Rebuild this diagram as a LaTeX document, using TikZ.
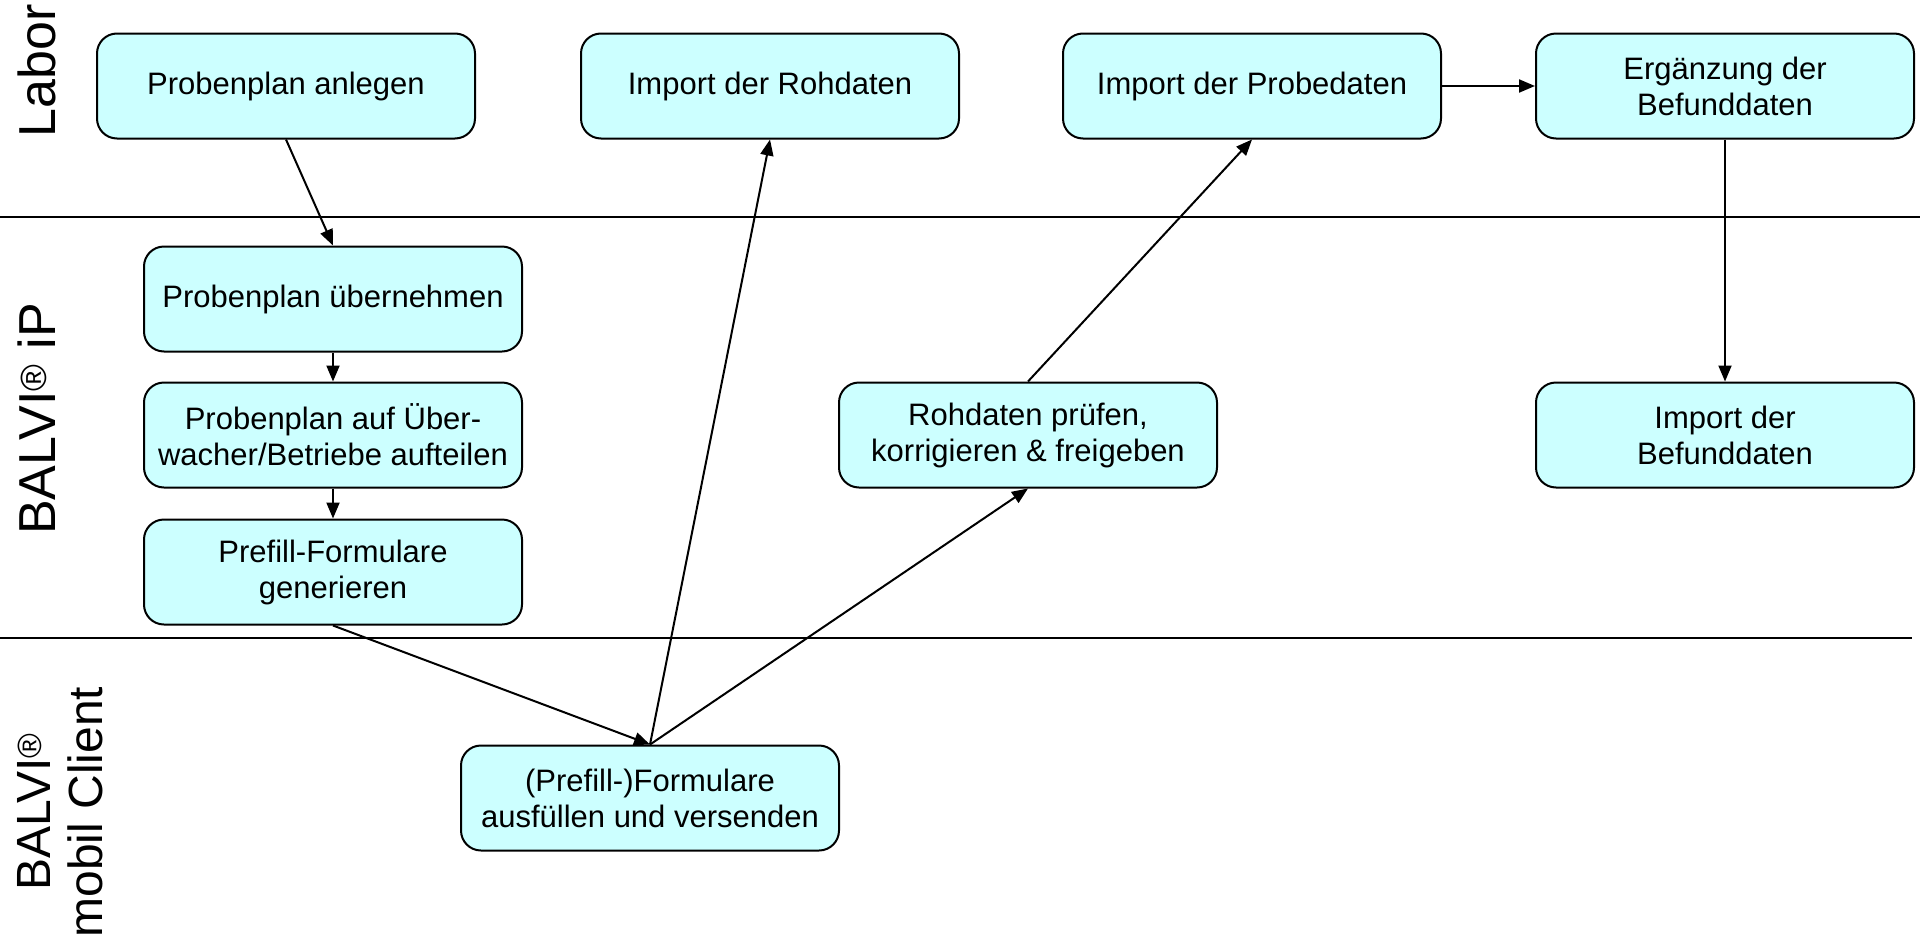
\documentclass[tikz,border=0pt]{standalone}
\usepackage{fontspec}
\setmainfont{Liberation Sans}
\usetikzlibrary{arrows.meta}
\definecolor{boxcyan}{HTML}{CCFFFF}
\begin{document}
\begin{tikzpicture}[x=1pt,y=-1pt]
  \tikzset{ task/.style={draw=black,line width=2pt,fill=boxcyan,rounded corners=20pt,
      minimum width=378pt,minimum height=105pt,align=center,
      font=\fontsize{31}{36}\selectfont},
    flow/.style={line width=2pt,-{Triangle[length=16pt,width=13pt]}},
    lane/.style={rotate=90,align=center,font=\fontsize{52}{52}\selectfont},
  }
  \useasboundingbox (0,0) rectangle (1920,937);

  % swimlanes
  \draw[line width=2.5pt] (0,217) -- (1920,217);
  \draw[line width=2.5pt] (0,638) -- (1912,638);
  \node[lane] (labor) at (37,71) {Labor};
  \node[lane] (ip) at (37,419) {BALVI\textsuperscript{®} iP};
  \node[lane,font=\fontsize{48}{52}\selectfont] (mobil) at (60,812) {BALVI\textsuperscript{®}\\mobil Client};

  \node[task] (anlegen) at (286,86) {Probenplan anlegen};
  \node[task] (rohimport) at (770,86) {Import der Rohdaten};
  \node[task] (probeimport) at (1252,86) {Import der Probedaten};
  \node[task] (ergaenzung) at (1725,86) {Ergänzung der\\Befunddaten};

  \node[task] (uebernehmen) at (333,299) {Probenplan übernehmen};
  \node[task] (aufteilen) at (333,435) {Probenplan auf Über-\\wacher/Betriebe aufteilen};
  \node[task] (prefill) at (333,572) {Prefill-Formulare\\generieren};
  \node[task] (pruefen) at (1028,435) {Rohdaten prüfen,\\korrigieren \& freigeben};
  \node[task] (befund) at (1725,435) {Import der\\Befunddaten};

  \node[task] (ausfuellen) at (650,798) {(Prefill-)Formulare\\ausfüllen und versenden};

  \draw[flow] (anlegen.south) -- (uebernehmen.north);
  \draw[flow] (uebernehmen.south) -- (aufteilen.north);
  \draw[flow] (aufteilen.south) -- (prefill.north);
  \draw[flow] (prefill.south) -- (ausfuellen.north);
  \draw[flow] (ausfuellen.north) -- (rohimport.south);
  \draw[flow] (ausfuellen.north) -- (pruefen.south);
  \draw[flow] (pruefen.north) -- (probeimport.south);
  \draw[flow] (probeimport.east) -- (ergaenzung.west);
  \draw[flow] (ergaenzung.south) -- (befund.north);
\end{tikzpicture}
\end{document}
